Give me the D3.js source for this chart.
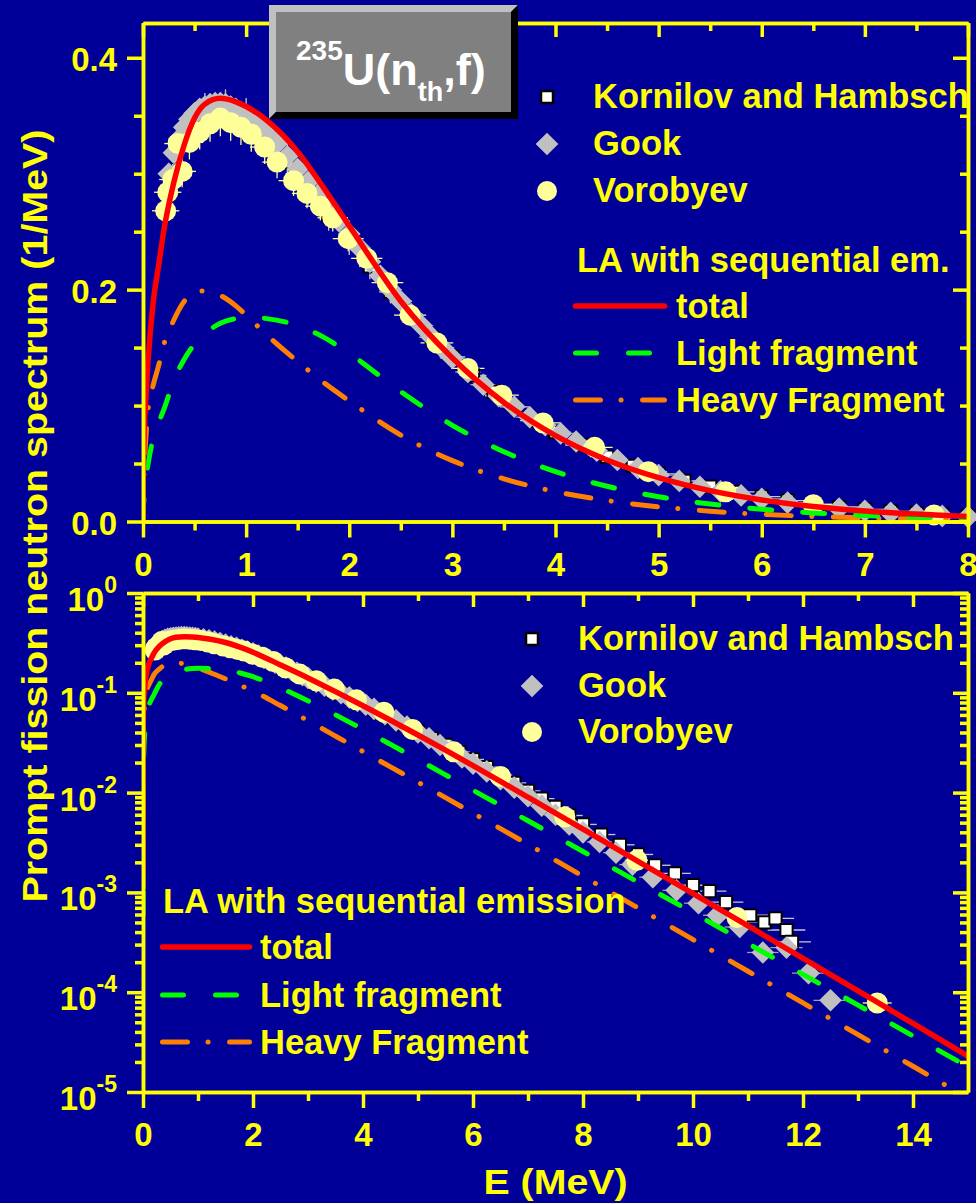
<!DOCTYPE html>
<html>
<head>
<meta charset="utf-8">
<title>235U(nth,f) prompt fission neutron spectrum</title>
<script src="https://cdn.jsdelivr.net/npm/d3@7/dist/d3.min.js"></script>
<style>
  html, body { margin: 0; padding: 0; background: #000099; }
  svg { display: block; }
</style>
</head>
<body>
<svg id="chart" width="976" height="1203"></svg>
<script>
// ---------- Los Alamos model with sequential emission (1/MeV) ----------
const modelE = [0.00001, 0.001, 0.01, 0.03, 0.05, 0.1, 0.15, 0.2, 0.3, 0.4,
  0.5, 0.6, 0.75, 0.9, 1.0, 1.2, 1.5, 1.75, 2.0, 2.5,
  3.0, 3.5, 4.0, 4.5, 5.0, 5.5, 6.0, 6.5, 7.0, 8.0,
  9, 10, 11, 12, 13, 14, 15];
const totalLA = [0.0018, 0.025, 0.07, 0.11, 0.14, 0.19, 0.22, 0.25, 0.293, 0.325,
  0.348, 0.36, 0.365, 0.362, 0.358, 0.346, 0.319, 0.288, 0.255, 0.19,
  0.141, 0.1027, 0.0741, 0.0531, 0.0378, 0.0266, 0.0186, 0.01296, 0.00899, 0.0043,
  0.00205, 0.000974, 0.000462, 0.0002186, 0.0001031, 0.0000486, 0.0000228];
const lightLA = [0.0006, 0.006, 0.02, 0.038, 0.05, 0.072, 0.085, 0.096, 0.122, 0.14,
  0.153, 0.162, 0.171, 0.175, 0.176, 0.175, 0.169, 0.159, 0.145, 0.112,
  0.083, 0.0602, 0.043, 0.0304, 0.0214, 0.01505, 0.01057, 0.00743, 0.00522, 0.00257,
  0.00127, 0.000625, 0.000307, 0.000151, 0.0000742, 0.0000364, 0.0000179];
const heavyLA = [0.0011, 0.012, 0.04, 0.075, 0.097, 0.118, 0.134, 0.152, 0.174, 0.19,
  0.197, 0.199, 0.195, 0.186, 0.178, 0.161, 0.138, 0.12, 0.104, 0.0745,
  0.0525, 0.0368, 0.0258, 0.0181, 0.0127, 0.0089, 0.00622, 0.00435, 0.00303, 0.00145,
  0.0007, 0.000337, 0.000162, 0.0000781, 0.0000376, 0.0000181, 0.0000087];

// ---------- measurements ----------
const kornilovE = [0.4, 0.6, 0.8, 1.0, 1.2, 1.4, 1.6, 1.8, 2.0,
  2.2, 2.4, 2.6, 2.8, 3.0, 3.2, 3.4, 3.6, 3.8, 4.0,
  4.25, 4.5, 4.75, 5.0, 5.25, 5.5, 5.75, 6.0,
  6.25, 6.5, 6.75, 7.0, 7.25, 7.5, 7.75, 8.0,
  8.33, 8.67, 9.0, 9.31, 9.67, 10.0, 10.3, 10.6, 11.04, 11.3, 11.5, 11.7, 11.8];
const kornilovV = [0.335, 0.352, 0.355, 0.348, 0.332, 0.31, 0.287, 0.264, 0.242,
  0.22, 0.198, 0.178, 0.159, 0.142, 0.126, 0.112, 0.099, 0.087, 0.077,
  0.066, 0.056, 0.048, 0.041, 0.035, 0.030, 0.0255, 0.0215,
  0.018, 0.015, 0.0125, 0.0104, 0.0087, 0.0072, 0.0059, 0.0048,
  0.0038, 0.0030, 0.0024, 0.00187, 0.00155, 0.00118, 0.00103, 0.0008, 0.00059, 0.0005, 0.00055, 0.00042, 0.00032];

const gookE = [0.25, 0.3, 0.35, 0.4, 0.45, 0.5, 0.55, 0.6, 0.65, 0.7,
  0.75, 0.8, 0.85, 0.9, 0.95, 1.0,
  1.1, 1.2, 1.3, 1.4, 1.5, 1.6, 1.7, 1.8, 1.9, 2.0,
  2.1, 2.2, 2.3, 2.4, 2.5, 2.6, 2.7, 2.8, 2.9, 3.0,
  3.15, 3.3, 3.45, 3.6, 3.75, 3.9, 4.05, 4.2,
  4.4, 4.6, 4.8, 5.0, 5.2, 5.4, 5.6, 5.8, 6.0,
  6.25, 6.5, 6.75, 7.0, 7.25, 7.5, 7.75, 8.0,
  8.3, 8.6, 8.9,
  9.27, 9.7, 10.1, 10.45, 10.85, 11.27, 11.7, 12.1, 12.5];
const gookV = [0.300, 0.318, 0.330, 0.340, 0.347, 0.352, 0.356, 0.358, 0.360, 0.361,
  0.361, 0.360, 0.358, 0.356, 0.353, 0.350,
  0.344, 0.336, 0.326, 0.315, 0.304, 0.293, 0.282, 0.270, 0.259, 0.248,
  0.236, 0.224, 0.212, 0.200, 0.190, 0.179, 0.169, 0.159, 0.150, 0.141,
  0.129, 0.118, 0.108, 0.099, 0.090, 0.083, 0.076, 0.069,
  0.061, 0.053, 0.046, 0.040, 0.035, 0.030, 0.026, 0.0225, 0.0195,
  0.0163, 0.0136, 0.0112, 0.0092, 0.0074, 0.0060, 0.0048, 0.0040,
  0.0032, 0.0025, 0.0019,
  0.00142, 0.00105, 0.00078, 0.00059, 0.00045, 0.00025, 0.00028, 0.000155, 0.000083];

const vorobyevE = [0.22, 0.24, 0.29, 0.34, 0.38, 0.45, 0.55, 0.65, 0.75, 0.85,
  0.95, 1.05, 1.18, 1.3, 1.46, 1.59, 1.72, 1.84, 1.99, 2.17,
  2.37, 2.59, 2.85, 3.15, 3.48, 3.88, 4.38, 4.9, 5.65, 6.5,
  7.67, 8.98, 10.8, 13.35];
const vorobyevV = [0.268, 0.284, 0.295, 0.326, 0.302, 0.327, 0.336, 0.343, 0.348, 0.344,
  0.34, 0.334, 0.323, 0.31, 0.294, 0.283, 0.272, 0.262, 0.244, 0.227,
  0.206, 0.178, 0.154, 0.132, 0.109, 0.085, 0.064, 0.043, 0.0256, 0.0145,
  0.0057, 0.0021, 0.00056, 0.000078];

// energy bin half-widths (absolute MeV + fraction of E) and relative uncertainties
const kornilovErr = { dEabs: 0.05, dErel: 0.025, dVrel: 0.05 };
const gookErr     = { dEabs: 0.06, dErel: 0.02,  dVrel: 0.02 };
const vorobyevErr = { dEabs: 0.13, dErel: 0.01,  dVrel: 0.045 };

// ---------- tick labels ----------
const linXTicks = [0, 1, 2, 3, 4, 5, 6, 7, 8];
const linXMinor = [0.5, 1.5, 2.5, 3.5, 4.5, 5.5, 6.5, 7.5];
const linYTicks = [0, 0.2, 0.4];
const linYMinor = [0.05, 0.1, 0.15, 0.25, 0.3, 0.35];
const logXTicks = [0, 2, 4, 6, 8, 10, 12, 14];
const logXMinor = [1, 3, 5, 7, 9, 11, 13];
const logYExponents = [0, -1, -2, -3, -4, -5];

// ---------- layout ----------
const W = 976, H = 1203;
const YELLOW = "#ffff00";
const FONT = "'Liberation Sans', Arial, Helvetica, sans-serif";
const X0 = 143, X1 = 968;
const P1 = { top: 23, bottom: 521.5 };
const P2 = { top: 593, bottom: 1092 };

const svg = d3.select("#chart")
  .attr("font-family", FONT).attr("font-weight", "bold");
svg.append("rect").attr("width", W).attr("height", H).attr("fill", "#000099");

const xLin = d3.scaleLinear().domain([0, 8]).range([X0, X1]);
const yLin = d3.scaleLinear().domain([0, 0.43]).range([P1.bottom, P1.top]);
const xLog = d3.scaleLinear().domain([0, 15]).range([X0, X1]);
const yLog = d3.scaleLog().domain([1e-5, 1]).range([P2.bottom, P2.top]);

const defs = svg.append("defs");
defs.append("clipPath").attr("id", "clipLin").append("rect")
  .attr("x", X0).attr("y", P1.top).attr("width", X1 - X0).attr("height", P1.bottom - P1.top);
defs.append("clipPath").attr("id", "clipLog").append("rect")
  .attr("x", X0).attr("y", P2.top).attr("width", X1 - X0).attr("height", P2.bottom - P2.top);

// ---------- data + model curves for one panel ----------
function drawPanel(xS, yS, maxE, clipId) {
  const g = svg.append("g");
  const series = [
    { E: kornilovE, V: kornilovV, err: kornilovErr, bar: "#c8c8c8", kind: "square" },
    { E: gookE, V: gookV, err: gookErr, bar: "#a0a0a8", kind: "diamond" },
    { E: vorobyevE, V: vorobyevV, err: vorobyevErr, bar: "#ffff99", kind: "circle" }
  ];
  const ymin = yS.domain()[0];
  series.forEach(s => {
    s.pts = s.E.map((e, i) => ({ e, v: s.V[i] })).filter(d => d.e <= maxE && d.v > ymin);
  });
  // error bars underneath every marker
  series.forEach(s => {
    const eb = g.append("g").attr("stroke", s.bar).attr("stroke-width", 1.3);
    s.pts.forEach(d => {
      const dE = s.err.dEabs + s.err.dErel * d.e;
      eb.append("line")
        .attr("x1", xS(Math.max(0, d.e - dE))).attr("x2", xS(Math.min(xS.domain()[1], d.e + dE)))
        .attr("y1", yS(d.v)).attr("y2", yS(d.v));
      eb.append("line")
        .attr("x1", xS(d.e)).attr("x2", xS(d.e))
        .attr("y1", yS(d.v * (1 - s.err.dVrel))).attr("y2", yS(d.v * (1 + s.err.dVrel)));
    });
  });
  // markers
  const sq = d3.symbol(d3.symbolSquare, 150)();
  const dia = d3.symbol(d3.symbolSquare, 256)();
  series.forEach(s => {
    const mg = g.append("g");
    if (s.kind === "square") {
      mg.selectAll("path").data(s.pts).join("path")
        .attr("d", sq).attr("transform", d => `translate(${xS(d.e)},${yS(d.v)})`)
        .attr("fill", "#ffffff").attr("stroke", "#000000").attr("stroke-width", 2);
    } else if (s.kind === "diamond") {
      mg.selectAll("path").data(s.pts).join("path")
        .attr("d", dia).attr("transform", d => `translate(${xS(d.e)},${yS(d.v)}) rotate(45)`)
        .attr("fill", "#c0c0c0");
    } else {
      mg.selectAll("circle").data(s.pts).join("circle")
        .attr("cx", d => xS(d.e)).attr("cy", d => yS(d.v)).attr("r", 10.5)
        .attr("fill", "#ffff99");
    }
  });
  // model curves
  const cg = g.append("g").attr("clip-path", `url(#${clipId})`)
    .attr("fill", "none").attr("stroke-linecap", "round");
  const line = d3.line().x(d => xS(d[0])).y(d => yS(d[1])).curve(d3.curveMonotoneX);
  const pts = arr => modelE.map((e, i) => [e, arr[i]]).filter(d => d[0] <= xS.domain()[1]);
  cg.append("path").attr("d", line(pts(heavyLA)))
    .attr("stroke", "#ff8000").attr("stroke-width", 5).attr("stroke-dasharray", "25,20.5,0.1,21.5");
  cg.append("path").attr("d", line(pts(lightLA)))
    .attr("stroke", "#00ff00").attr("stroke-width", 5).attr("stroke-dasharray", "22,31");
  cg.append("path").attr("d", line(pts(totalLA)))
    .attr("stroke", "#ff0000").attr("stroke-width", 5.5);
}

drawPanel(xLin, yLin, 8.0, "clipLin");
drawPanel(xLog, yLog, 15, "clipLog");

// ---------- legends ----------
function symbolLegend(xSym, xText, baselines) {
  const g = svg.append("g");
  const names = ["Kornilov and Hambsch", "Gook", "Vorobyev"];
  const cy = baselines.map(b => b - 11);
  g.append("path").attr("d", d3.symbol(d3.symbolSquare, 144)())
    .attr("transform", `translate(${xSym},${cy[0]})`)
    .attr("fill", "#ffffff").attr("stroke", "#000000").attr("stroke-width", 2.5);
  g.append("path").attr("d", d3.symbol(d3.symbolSquare, 256)())
    .attr("transform", `translate(${xSym},${cy[1]}) rotate(45)`).attr("fill", "#c0c0c0");
  g.append("circle").attr("cx", xSym).attr("cy", cy[2]).attr("r", 10).attr("fill", "#ffff99");
  names.forEach((n, i) => {
    g.append("text").attr("x", xText).attr("y", baselines[i]).attr("fill", YELLOW)
      .attr("font-size", 34.5).text(n);
  });
}
function modelLegend(title, xTitle, yTitle, xLine0, xLine1, xText, baselines) {
  const g = svg.append("g").attr("stroke-linecap", "round");
  g.append("text").attr("x", xTitle).attr("y", yTitle).attr("fill", YELLOW)
    .attr("font-size", 34.5).text(title);
  const entries = [
    { name: "total", color: "#ff0000", dash: null, w: 5.5 },
    { name: "Light fragment", color: "#00ff00", dash: "21,32", w: 5 },
    { name: "Heavy Fragment", color: "#ff8000", dash: "25,20.5,0.1,21.5", w: 5 }
  ];
  entries.forEach((e, i) => {
    const y = baselines[i] - 12;
    g.append("path").attr("d", d3.line()([[xLine0 + 2.5, y], [xLine1 - 2.5, y]]))
      .attr("stroke", e.color).attr("stroke-width", e.w)
      .attr("stroke-dasharray", e.dash);
    g.append("text").attr("x", xText).attr("y", baselines[i]).attr("fill", YELLOW)
      .attr("font-size", 34.5).text(e.name);
  });
}

symbolLegend(547, 593, [108, 155, 202]);
modelLegend("LA with sequential em.", 577, 272, 573, 667, 676, [318, 365, 412]);
symbolLegend(532, 578, [650, 697, 743]);
modelLegend("LA with sequential emission", 163, 913, 160, 252, 260, [959, 1007, 1054]);

// ---------- axes ----------
function putAxis(axis, tx, ty) {
  const g = svg.append("g").attr("transform", `translate(${tx},${ty})`).call(axis);
  g.attr("font-family", FONT).attr("font-weight", "bold").attr("font-size", 33);
  g.select(".domain").attr("stroke", YELLOW).attr("stroke-width", 3.5);
  g.selectAll(".tick line").attr("stroke", YELLOW).attr("stroke-width", 3.5);
  g.selectAll(".tick text").attr("fill", YELLOW);
  return g;
}

// linear panel
putAxis(d3.axisBottom(xLin).tickValues(linXTicks).tickSize(16).tickPadding(15)
  .tickSizeOuter(0).tickFormat(d3.format("d")), 0, P1.bottom);
putAxis(d3.axisBottom(xLin).tickValues(linXMinor).tickSize(9).tickSizeOuter(0).tickFormat(""), 0, P1.bottom);
putAxis(d3.axisTop(xLin).tickValues(linXTicks).tickSize(-14).tickSizeOuter(0).tickFormat(""), 0, P1.top);
putAxis(d3.axisTop(xLin).tickValues(linXMinor).tickSize(-8).tickSizeOuter(0).tickFormat(""), 0, P1.top);
putAxis(d3.axisLeft(yLin).tickValues(linYTicks).tickSize(16).tickPadding(10)
  .tickSizeOuter(0).tickFormat(d3.format(".1f")), X0, 0)
  .selectAll(".tick text").attr("dy", "0.39em");
putAxis(d3.axisLeft(yLin).tickValues(linYMinor).tickSize(9).tickSizeOuter(0).tickFormat(""), X0, 0);
putAxis(d3.axisRight(yLin).tickValues(linYTicks).tickSize(-15).tickSizeOuter(0).tickFormat(""), X1, 0);
putAxis(d3.axisRight(yLin).tickValues(linYMinor).tickSize(-8).tickSizeOuter(0).tickFormat(""), X1, 0);

// logarithmic panel
const logMajor = logYExponents.map(p => Math.pow(10, p));
const logMinor = [];
logYExponents.slice(1).forEach(p => {
  for (let k = 2; k <= 9; k++) logMinor.push(k * Math.pow(10, p));
});
putAxis(d3.axisBottom(xLog).tickValues(logXTicks).tickSize(16).tickPadding(15)
  .tickSizeOuter(0).tickFormat(d3.format("d")), 0, P2.bottom);
putAxis(d3.axisBottom(xLog).tickValues(logXMinor).tickSize(9).tickSizeOuter(0).tickFormat(""), 0, P2.bottom);
putAxis(d3.axisTop(xLog).tickValues(logXTicks).tickSize(-14).tickSizeOuter(0).tickFormat(""), 0, P2.top);
putAxis(d3.axisTop(xLog).tickValues(logXMinor).tickSize(-8).tickSizeOuter(0).tickFormat(""), 0, P2.top);
putAxis(d3.axisLeft(yLog).tickValues(logMajor).tickSize(16).tickSizeOuter(0).tickFormat(""), X0, 0);
putAxis(d3.axisLeft(yLog).tickValues(logMinor).tickSize(8).tickSizeOuter(0).tickFormat(""), X0, 0);
putAxis(d3.axisRight(yLog).tickValues(logMajor).tickSize(-15).tickSizeOuter(0).tickFormat(""), X1, 0);
putAxis(d3.axisRight(yLog).tickValues(logMinor).tickSize(-8).tickSizeOuter(0).tickFormat(""), X1, 0);

// power-of-ten labels
const logLabels = svg.append("g").attr("fill", YELLOW);
logYExponents.forEach(p => {
  const ty = yLog(Math.pow(10, p));
  const t = logLabels.append("text").attr("x", 117).attr("y", ty + 18)
    .attr("text-anchor", "end").attr("font-size", 33);
  t.append("tspan").text("10");
  t.append("tspan").attr("font-size", 23).attr("dy", -18).text(String(p));
});

// ---------- axis titles ----------
svg.append("text")
  .attr("transform", "translate(47,516) rotate(-90)")
  .attr("text-anchor", "middle").attr("fill", YELLOW).attr("font-size", 35)
  .attr("textLength", 773).attr("lengthAdjust", "spacingAndGlyphs")
  .text("Prompt fission neutron spectrum (1/MeV)");
svg.append("text")
  .attr("x", (X0 + X1) / 2).attr("y", 1194)
  .attr("text-anchor", "middle").attr("fill", YELLOW).attr("font-size", 35)
  .attr("textLength", 144).attr("lengthAdjust", "spacingAndGlyphs")
  .text("E (MeV)");

// ---------- reaction label box ----------
const box = svg.append("g");
box.append("polygon").attr("points", "269,5 518,5 511,12 276,12 276,112 269,119").attr("fill", "#c0c0c0");
box.append("polygon").attr("points", "518,5 518,119 269,119 276,112 511,112 511,12").attr("fill", "#000000");
box.append("rect").attr("x", 276).attr("y", 12).attr("width", 235).attr("height", 100).attr("fill", "#808080");
const rt = box.append("text").attr("x", 296).attr("y", 85).attr("fill", "#ffffff");
rt.append("tspan").attr("font-size", 28).attr("dy", -25).text("235");
rt.append("tspan").attr("font-size", 45).attr("dy", 25).text("U(n");
rt.append("tspan").attr("font-size", 27).attr("dy", 16).text("th");
rt.append("tspan").attr("font-size", 45).attr("dy", -16).text(",f)");
</script>
</body>
</html>
